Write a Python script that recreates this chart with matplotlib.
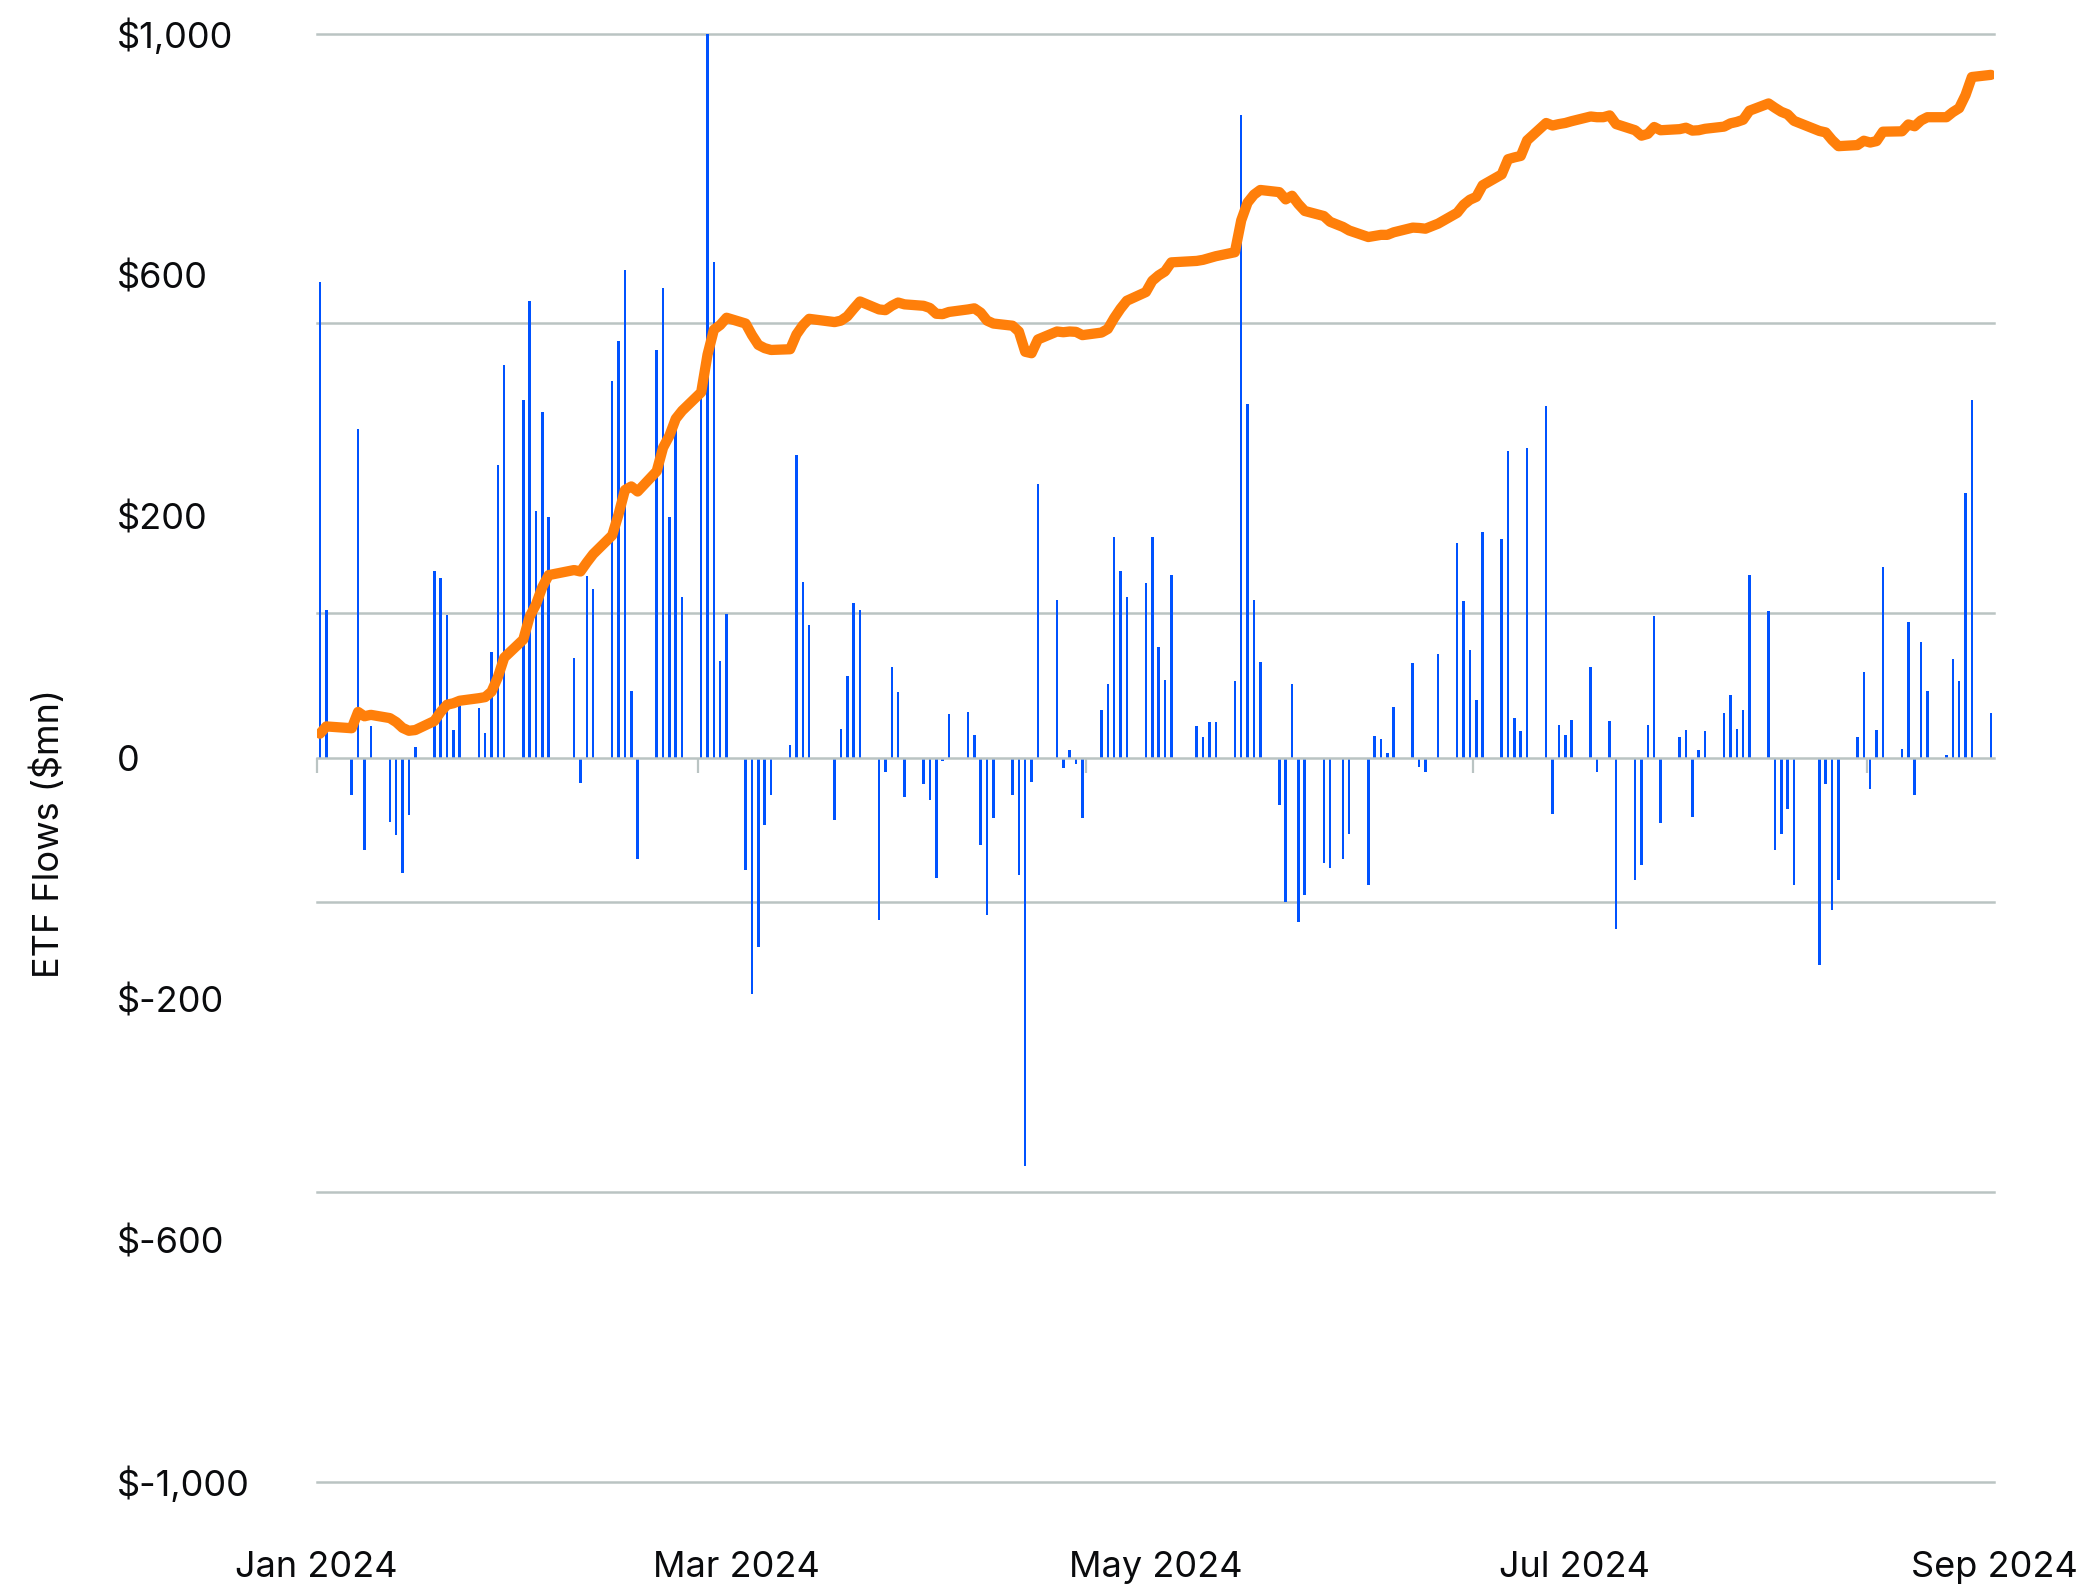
import numpy as np
import pandas as pd
import matplotlib
matplotlib.use("Agg")
import matplotlib.pyplot as plt
import matplotlib.dates as mdates

# trading days, Jan 11 - Sep 30 2024 (US market holidays removed)
holidays = ["2024-01-15", "2024-02-19", "2024-03-29", "2024-05-27",
            "2024-06-19", "2024-07-04", "2024-09-02"]
dates = pd.bdate_range("2024-01-11", "2024-09-30")
dates = dates[~dates.isin(pd.to_datetime(holidays))]

# daily net flows, $mn
flows = [
    # Jan
    657, 204, -52, 454, -128, 43, -89, -107, -160, -80, 15, 257, 248, 197,
    # Feb
    38, 71, 69, 34, 146, 404, 542, 494, 631, 341, 477, 332, 137, -35, 251, 233,
    520, 576, 673, 92,
    # Mar
    -140, 563, 648, 332, 472, 222, 505, 1045, 684, 133, 198, -155, -327, -262,
    -93, -52, 17, 418, 242, 183,
    # Apr
    -86, 40, 113, 214, 204, -224, -20, 125, 90, -54, -37, -59, -166, -5, 60,
    63, 31, -121, -218, -83, -52, -162,
    # May
    -564, -34, 378, 218, -15, 11, -9, -84, 65, 101, 304, 258, 222, 241, 305,
    153, 107, 252, 44, 28, 49, 49,
    # Jun
    106, 887, 489, 218, 132, -65, -199, 101, -227, -190, -146, -152, -140,
    -106, -176, 30, 25, 6, 70,
    # Jul
    130, -13, -20, 143, 296, 216, 149, 80, 311, 302, 423, 54, 37, 427, 486,
    -78, 45, 31, 52, 125, -20, 0,
    # Aug
    50, -237, -169, -149, 45, 195, -90, 28, 38, -82, 11, 37, 62, 87, 40, 65,
    252, 202, -128, -106, -71, -176,
    # Sep
    -287, -37, -211, -169, 28, 118, -44, 38, 263, 12, 187, -52, 159, 92, 4,
    136, 106, 366, 494, 62,
]

# cumulative net flows, $bn (right scale, hidden)
cumulative = [
    # Jan
    0.66, 0.86, 0.81, 1.26, 1.14, 1.18, 1.09, 0.98, 0.82, 0.74, 0.76, 1.01,
    1.26, 1.46,
    # Feb
    1.50, 1.57, 1.64, 1.67, 1.82, 2.22, 2.76, 3.26, 3.89, 4.23, 4.71, 5.04,
    5.18, 5.14, 5.39, 5.62, 6.14, 6.72, 7.39, 7.49,
    # Mar
    7.35, 7.91, 8.56, 8.89, 9.36, 9.58, 10.09, 11.13, 11.82, 11.95, 12.15,
    11.99, 11.67, 11.40, 11.31, 11.26, 11.28, 11.69, 11.94, 12.12,
    # Apr
    12.03, 12.07, 12.19, 12.40, 12.60, 12.38, 12.36, 12.48, 12.57, 12.52,
    12.48, 12.42, 12.26, 12.25, 12.31, 12.38, 12.41, 12.29, 12.07, 11.99,
    11.93, 11.77,
    # May
    11.21, 11.17, 11.55, 11.77, 11.75, 11.77, 11.76, 11.67, 11.74, 11.84,
    12.14, 12.40, 12.62, 12.86, 13.17, 13.32, 13.43, 13.68, 13.72, 13.75,
    13.80, 13.85,
    # Jun
    13.96, 14.84, 15.33, 15.55, 15.68, 15.62, 15.42, 15.52, 15.29, 15.10,
    14.96, 14.80, 14.66, 14.56, 14.38, 14.41, 14.44, 14.44, 14.51,
    # Jul
    14.64, 14.63, 14.61, 14.75, 15.05, 15.27, 15.41, 15.49, 15.81, 16.11,
    16.53, 16.58, 16.62, 17.05, 17.53, 17.46, 17.50, 17.53, 17.58, 17.71,
    17.69, 17.69,
    # Aug
    17.74, 17.50, 17.33, 17.18, 17.23, 17.42, 17.33, 17.36, 17.40, 17.32,
    17.33, 17.37, 17.43, 17.52, 17.56, 17.62, 17.87, 18.07, 17.95, 17.84,
    17.77, 17.59,
    # Sep
    17.31, 17.27, 17.06, 16.89, 16.92, 17.04, 16.99, 17.03, 17.29, 17.30,
    17.49, 17.44, 17.60, 17.69, 17.69, 17.83, 17.94, 18.30, 18.80, 18.86,
]

assert len(dates) == len(flows) == len(cumulative)

month_labels = ["Jan 2024", "Mar 2024", "May 2024", "Jul 2024", "Sep 2024"]
zero_ticks = ["2024-01-11", "2024-03-11", "2024-05-11", "2024-07-11", "2024-09-11"]
y_labels = ["$1,000", "$600", "$200", "0", "$-200", "$-600", "$-1,000"]
grid_levels = [-1000, -600, -200, 200, 600, 1000]

BLUE = "#0052ff"
ORANGE = "#ff7f0a"
GRID = "#bac4c3"
TEXT = "#0a0b0d"

plt.rcParams["font.family"] = ["Inter", "DejaVu Sans"]
plt.rcParams["text.parse_math"] = False

fig = plt.figure(figsize=(10.4, 7.96), dpi=200)
ax = fig.add_axes([0.1523, 0.0694, 0.8064, 0.9095])

x = mdates.date2num(dates) + 0.5
ax.bar(x, flows, width=0.4, color=BLUE, zorder=2)

x0 = mdates.date2num(pd.Timestamp("2024-01-11"))
x1 = mdates.date2num(pd.Timestamp("2024-10-01"))
ax.set_xlim(x0, x1)
ax.set_ylim(-1000, 1000)

# y axis: labels and gridlines sit on different levels
ax.yaxis.remove_overlapping_locs = False
ax.set_yticks(np.linspace(1000, -1000, len(y_labels)), labels=y_labels)
ax.set_yticks(grid_levels, minor=True)
ax.grid(True, which="minor", axis="y", color=GRID, lw=0.9)
ax.set_axisbelow(True)
ax.tick_params(axis="y", which="both", length=0)
ax.tick_params(axis="y", which="major", pad=72, labelsize=13, labelcolor=TEXT)
for lab in ax.get_yticklabels():
    lab.set_horizontalalignment("left")
for t in ax.yaxis.get_minor_ticks():
    t.gridline.set_clip_on(False)

for s in ["top", "left", "right"]:
    ax.spines[s].set_visible(False)
ax.spines["bottom"].set_position(("data", 0))
ax.spines["bottom"].set_color(GRID)
ax.spines["bottom"].set_linewidth(0.9)
ax.set_xticks(mdates.date2num(pd.to_datetime(zero_ticks)))
ax.tick_params(axis="x", length=5.4, width=0.8, color=GRID, labelbottom=False)

sec = ax.secondary_xaxis(0)
sec.set_xticks(np.linspace(x0, x1, len(month_labels)), labels=month_labels)
sec.tick_params(length=0, pad=25, labelsize=13, labelcolor=TEXT)
sec.spines["bottom"].set_visible(False)

ax2 = ax.twinx()
ax2.set_ylim(-20, 20)
ax2.axis("off")
ax2.plot(x, cumulative, color=ORANGE, lw=3.7,
         solid_capstyle="round", solid_joinstyle="round")

fig.text(48 / 2080, 1 - 833 / 1592, "ETF Flows ($mn)", rotation=90,
         ha="center", va="center", fontsize=13, color=TEXT)

fig.savefig("out.png", dpi=200)
